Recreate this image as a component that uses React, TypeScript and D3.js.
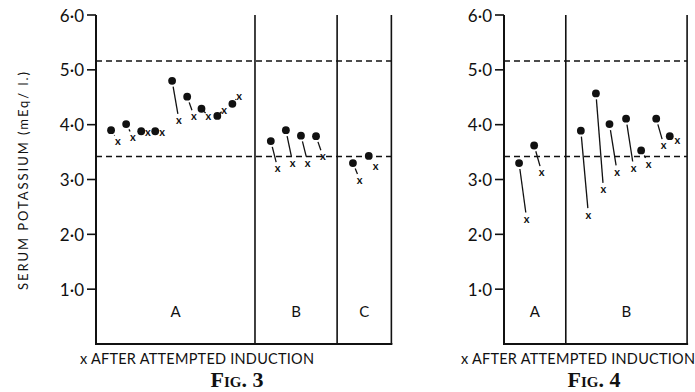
import * as d3 from 'd3';

// serum potassium, mEq/l.  (● before, x after attempted induction)
const Y_TICKS = [1, 2, 3, 4, 5, 6];
const Y_TICK_LABELS = ['1·0', '2·0', '3·0', '4·0', '5·0', '6·0'];
const NORMAL_LIMITS = [3.42, 5.16];

const FIG3_SLOTS = [1, 2, 3, 3.93, 5.05, 6.05, 7, 8.05, 9.05, 11.6, 12.6, 13.6, 14.6, 17.05, 18.1];
const FIG3_BEFORE = [3.9, 4.01, 3.88, 3.88, 4.8, 4.51, 4.29, 4.16, 4.38, 3.7, 3.9, 3.8, 3.79, 3.3, 3.43];
const FIG3_AFTER = [3.71, 3.78, 3.88, 3.88, 4.09, 4.16, 4.16, 4.28, 4.54, 3.21, 3.31, 3.31, 3.43, 3.0, 3.25];
const FIG3_BOUNDS = [0, 10.55, 16.0, 19.6];
const FIG3_PANELS = ['A', 'B', 'C'];

const FIG4_SLOTS = [1, 2, 5.1, 6.1, 7.0, 8.1, 9.1, 10.1, 11.0];
const FIG4_BEFORE = [3.3, 3.62, 3.89, 4.57, 4.01, 4.11, 3.53, 4.11, 3.79];
const FIG4_AFTER = [2.29, 3.14, 2.37, 2.83, 3.15, 3.22, 3.3, 3.63, 3.73];
const FIG4_BOUNDS = [0, 4.1, 12.15];
const FIG4_PANELS = ['A', 'B'];

const W = 695;
const H = 392;
const TOP = 15;
const BOTTOM = 344;
const UNIT = 15.07;
const INK = '#111';
const SANS = 'Lato, "Open Sans", sans-serif';

const yScale = d3.scaleLinear().domain([0, 6]).range([BOTTOM, TOP]);

interface FigProps {
  x0: number;
  slots: number[];
  before: number[];
  after: number[];
  bounds: number[];
  panels: string[];
  afterShift: number;
  legendX: number;
  title: string;
  titleX: number;
}

function Figure({ x0, slots, before, after, bounds, panels, afterShift, legendX, title, titleX }: FigProps) {
  const right = bounds[bounds.length - 1];
  const x = d3.scaleLinear().domain([0, right]).range([x0, x0 + right * UNIT]);

  return (
    <g>
      {/* normal range */}
      {NORMAL_LIMITS.map(v => (
        <line key={v} x1={x(0)} x2={x(right)} y1={yScale(v)} y2={yScale(v)}
          stroke={INK} strokeWidth={1.6} strokeDasharray="6,4" />
      ))}

      {/* panel dividers and frame */}
      {bounds.slice(1).map(b => (
        <line key={b} x1={x(b)} x2={x(b)} y1={yScale(6)} y2={yScale(0)} stroke={INK} strokeWidth={1.6} />
      ))}
      <line x1={x(0)} x2={x(0)} y1={yScale(6)} y2={yScale(0)} stroke={INK} strokeWidth={2} />
      <line x1={x(0) - 1} x2={x(right) + 1} y1={yScale(0)} y2={yScale(0)} stroke={INK} strokeWidth={2} />

      {Y_TICKS.map((t, i) => (
        <g key={t}>
          <line x1={x(0) - 9} x2={x(0)} y1={yScale(t)} y2={yScale(t)} stroke={INK} strokeWidth={1.6} />
          <text x={x(0) - 12} y={yScale(t)} textAnchor="end" dominantBaseline="central"
            fontFamily={SANS} fontSize={17} fill={INK}>{Y_TICK_LABELS[i]}</text>
        </g>
      ))}

      {panels.map((p, i) => (
        <text key={p} x={x((bounds[i] + bounds[i + 1]) / 2)} y={yScale(0.6)} textAnchor="middle"
          dominantBaseline="central" fontFamily={SANS} fontSize={15} fill={INK}>{p}</text>
      ))}

      {/* paired readings */}
      {slots.map((s, i) => {
        const bx = x(s);
        const by = yScale(before[i]);
        const ax = x(s + afterShift);
        const ay = yScale(after[i]);
        const dx = ax - bx;
        const dy = ay - by;
        const len = Math.hypot(dx, dy);
        const showLink = Math.abs(dy) > 5;
        return (
          <g key={i}>
            {showLink && (
              <line x1={bx + dx * 6 / len} y1={by + dy * 6 / len}
                x2={ax - dx * 6 / len} y2={ay - dy * 6 / len}
                stroke={INK} strokeWidth={1.3} />
            )}
            <circle cx={bx} cy={by} r={3.9} fill={INK} />
            <text x={ax} y={ay} textAnchor="middle" dominantBaseline="central"
              fontFamily={SANS} fontWeight={700} fontSize={11} fill={INK}>x</text>
          </g>
        );
      })}

      <text x={legendX} y={364} fontFamily={SANS} fontSize={14.5} fill={INK}
        textLength={234} lengthAdjust="spacing">x AFTER ATTEMPTED INDUCTION</text>
      <text x={titleX} y={387} textAnchor="middle" fontFamily='"Liberation Serif", serif'
        fontWeight={700} fontSize={22} fill={INK} style={{ fontVariant: 'small-caps' }}>{title}</text>
    </g>
  );
}

export default function App() {
  return (
    <div style={{ position: 'fixed', left: 0, top: 0 }}>
      <svg width={W} height={H} style={{ display: 'block', background: '#fff' }}>
        <text transform="translate(23,181) rotate(-90)" textAnchor="middle" dominantBaseline="central"
          fontFamily={SANS} fontSize={13} fill={INK} textLength={218} lengthAdjust="spacing">
          SERUM POTASSIUM  (mEq/ l.)
        </text>
        <Figure x0={96} slots={FIG3_SLOTS} before={FIG3_BEFORE} after={FIG3_AFTER}
          bounds={FIG3_BOUNDS} panels={FIG3_PANELS} afterShift={0.45}
          legendX={80} title="Fig. 3" titleX={237} />
        <Figure x0={504} slots={FIG4_SLOTS} before={FIG4_BEFORE} after={FIG4_AFTER}
          bounds={FIG4_BOUNDS} panels={FIG4_PANELS} afterShift={0.5}
          legendX={461} title="Fig. 4" titleX={594} />
      </svg>
    </div>
  );
}
